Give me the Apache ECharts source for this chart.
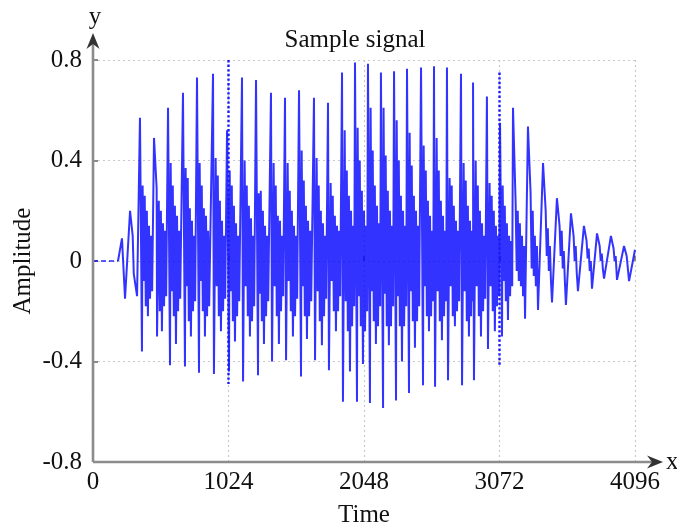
<!DOCTYPE html>
<html>
<head>
<meta charset="utf-8">
<script src="https://cdn.jsdelivr.net/npm/echarts@6/dist/echarts.min.js"></script>
<style>
  html, body { margin: 0; padding: 0; background: #fff; }
  #chart { width: 677px; height: 527px; }
</style>
</head>
<body>
<div id="chart"></div>
<script>
// Sample signal: glottal-like pulse train, amplitude vs. sample index (0..4096)

// Flat lead-in before the voiced part (samples, amplitude)
const leadT = [0, 189];
const leadY = [0, 0];

// Pulse instants (sample index) and their positive peaks
const pulseT  = [219, 280, 355, 461, 567, 680, 786, 907, 1013, 1126, 1232, 1345, 1451, 1557, 1670, 1776, 1882, 1980, 2078, 2176, 2275, 2373, 2479, 2577, 2675, 2781, 2872, 2977, 3076, 3174, 3287, 3401, 3506, 3612, 3710, 3809, 3914, 4013];
const pulseHi = [0.09, 0.20, 0.57, 0.49, 0.61, 0.67, 0.73, 0.745, 0.52, 0.73, 0.72, 0.67, 0.65, 0.68, 0.65, 0.63, 0.75, 0.79, 0.785, 0.75, 0.755, 0.765, 0.77, 0.775, 0.77, 0.745, 0.71, 0.655, 0.55, 0.61, 0.535, 0.39, 0.25, 0.19, 0.14, 0.11, 0.10, 0.06];

// Negative extreme in each period
const lowT    = [242, 333, 370, 484, 582, 695, 801, 914, 1028, 1134, 1247, 1353, 1459, 1572, 1678, 1783, 1889, 1995, 2093, 2192, 2290, 2388, 2494, 2585, 2683, 2789, 2879, 2985, 3091, 3265, 3363, 3469, 3574, 3665, 3771, 3862, 3960, 4051];
const pulseLo = [-0.15, -0.14, -0.36, -0.30, -0.415, -0.42, -0.445, -0.45, -0.44, -0.48, -0.455, -0.40, -0.395, -0.46, -0.395, -0.435, -0.56, -0.56, -0.565, -0.585, -0.555, -0.525, -0.495, -0.50, -0.475, -0.495, -0.475, -0.35, -0.30, -0.23, -0.195, -0.165, -0.175, -0.12, -0.11, -0.07, -0.075, -0.08];

// Ringing after each pulse: sample delays and the alternating levels reached
const ringDelay = [20, 28, 36, 44, 52, 60, 68, 76, 84, 92];
const ring = [
  [],
  [0.10, -0.05],
  [0.30, -0.08, 0.26, -0.18, 0.20, -0.22, 0.14, -0.15, 0.10, -0.12],
  [0.29, -0.10, 0.24, -0.20, 0.20, -0.28, 0.15, -0.18, 0.12, -0.14],
  [0.39, -0.12, 0.30, -0.22, 0.22, -0.33, 0.18, -0.20, 0.12, -0.15],
  [0.37, -0.10, 0.33, -0.24, 0.21, -0.30, 0.16, -0.20, 0.10, -0.16],
  [0.39, -0.08, 0.30, -0.20, 0.21, -0.30, 0.18, -0.22, 0.12, -0.18],
  [0.41, -0.10, 0.34, -0.22, 0.24, -0.28, 0.16, -0.20, 0.10, -0.15],
  [0.36, -0.12, 0.30, -0.24, 0.22, -0.32, 0.15, -0.22, 0.10, -0.16],
  [0.40, -0.10, 0.30, -0.22, 0.22, -0.30, 0.17, -0.24, 0.10, -0.18],
  [0.27, -0.13, 0.28, -0.24, 0.20, -0.33, 0.14, -0.22, 0.10, -0.16],
  [0.39, -0.10, 0.30, -0.22, 0.18, -0.33, 0.16, -0.20, 0.10, -0.14],
  [0.39, -0.08, 0.28, -0.20, 0.20, -0.30, 0.14, -0.22, 0.10, -0.15],
  [0.44, -0.10, 0.32, -0.22, 0.22, -0.31, 0.16, -0.22, 0.12, -0.16],
  [0.41, -0.12, 0.30, -0.24, 0.20, -0.335, 0.15, -0.22, 0.10, -0.15],
  [0.31, -0.08, 0.26, -0.20, 0.18, -0.28, 0.14, -0.20, 0.12, -0.14],
  [0.52, -0.16, 0.36, -0.28, 0.26, -0.44, 0.20, -0.26, 0.14, -0.18],
  [0.53, -0.14, 0.40, -0.26, 0.28, -0.41, 0.20, -0.28, 0.14, -0.20],
  [0.61, -0.12, 0.44, -0.24, 0.30, -0.33, 0.22, -0.26, 0.15, -0.18],
  [0.61, -0.13, 0.42, -0.26, 0.28, -0.335, 0.20, -0.26, 0.14, -0.18],
  [0.56, -0.14, 0.40, -0.26, 0.26, -0.40, 0.20, -0.26, 0.14, -0.18],
  [0.51, -0.12, 0.38, -0.24, 0.26, -0.345, 0.20, -0.24, 0.14, -0.18],
  [0.46, -0.10, 0.36, -0.22, 0.24, -0.28, 0.18, -0.22, 0.12, -0.16],
  [0.49, -0.12, 0.36, -0.24, 0.24, -0.315, 0.18, -0.22, 0.12, -0.16],
  [0.33, -0.10, 0.30, -0.22, 0.22, -0.26, 0.16, -0.20, 0.12, -0.16],
  [0.39, -0.12, 0.32, -0.24, 0.22, -0.30, 0.16, -0.22, 0.12, -0.16],
  [0.40, -0.10, 0.30, -0.22, 0.20, -0.30, 0.15, -0.20, 0.10, -0.15],
  [0.31, -0.10, 0.26, -0.20, 0.20, -0.28, 0.14, -0.18, 0.10, -0.14],
  [0.30, -0.08, 0.22, -0.16, 0.15, -0.235, 0.10, -0.14, 0.08, -0.10],
  [0.23, -0.04, 0.20, -0.08, 0.15, -0.10, 0.10, -0.14, 0.06],
  [0.27, -0.03, 0.20, -0.06, 0.10, -0.10, 0.06],
  [0.20, 0.02, 0.13, -0.04, 0.06, -0.08],
  [0.14, 0.02, 0.12, -0.03, 0.04, -0.08],
  [0.10, 0.00, 0.06, -0.05],
  [0.08, 0.01, 0.05, -0.04, 0.00],
  [0.06, 0.00, 0.03, -0.03],
  [0.05, 0.00, 0.02],
  [0.02]
];

// Last sample
const endT = 4096;
const endY = 0.045;

// Dotted frame boundaries drawn across the signal
const frameT  = [1024, 3072];
const frameHi = [0.80, 0.75];
const frameLo = [-0.49, -0.42];

// Axis ticks
const xTicks = [0, 1024, 2048, 3072, 4096];
const yTicks = [-0.8, -0.4, 0, 0.4, 0.8];

// Assemble the polyline vertices from the values above
const signal = [[leadT[leadT.length - 1], leadY[leadY.length - 1]]];
for (let i = 0; i < pulseT.length; i++) {
  const pts = [[pulseT[i], pulseHi[i]], [lowT[i], pulseLo[i]]];
  ring[i].forEach((v, k) => pts.push([pulseT[i] + ringDelay[k], v]));
  pts.sort((a, b) => a[0] - b[0]);
  signal.push(...pts);
}
signal.push([endT, endY]);

const lead = leadT.map((t, i) => [t, leadY[i]]);

const SERIF = '"Liberation Serif", "DejaVu Serif", serif';
const FS = 25;
const BLUE = '#0000ff';

const chart = echarts.init(document.getElementById('chart'), null, { renderer: 'canvas' });

const series = [
  {
    type: 'line', data: lead, symbol: 'none', silent: true,
    lineStyle: { color: BLUE, width: 1.7, type: [5, 3], opacity: 0.85 }
  },
  {
    type: 'line', data: signal, symbol: 'none', silent: true,
    lineStyle: { color: BLUE, width: 2.0, opacity: 0.8, join: 'miter', miterLimit: 4 }
  }
];
frameT.forEach((t, i) => {
  series.push({
    type: 'line', data: [[t, frameHi[i]], [t, frameLo[i]]], symbol: 'none', silent: true,
    lineStyle: { color: '#1a1aff', width: 2.4, type: [2.4, 2.2] }
  });
});

chart.setOption({
  animation: false,
  backgroundColor: '#ffffff',
  grid: { left: 93, right: 42, top: 60, bottom: 65, containLabel: false, outerBoundsMode: 'none' },
  xAxis: {
    type: 'value', min: xTicks[0], max: xTicks[xTicks.length - 1], interval: 1024,
    name: 'Time', nameLocation: 'middle', nameGap: 41,
    nameTextStyle: { fontFamily: SERIF, fontSize: FS, color: '#111' },
    axisLine: { show: false },
    axisTick: { show: true, inside: true, length: 5, lineStyle: { color: '#8a8a8a', width: 2 } },
    axisLabel: { fontFamily: SERIF, fontSize: FS, color: '#111', margin: 8, formatter: v => String(v) },
    splitLine: { show: true, lineStyle: { color: '#c9c9c9', type: [2, 3], width: 1.2 } }
  },
  yAxis: {
    type: 'value', min: yTicks[0], max: yTicks[yTicks.length - 1], interval: 0.4,
    name: 'Amplitude', nameLocation: 'middle', nameGap: 57, nameRotate: 90, nameMoveOverlap: false,
    nameTextStyle: { fontFamily: SERIF, fontSize: FS, color: '#111' },
    axisLine: { show: false },
    axisTick: { show: true, inside: true, length: 5, lineStyle: { color: '#8a8a8a', width: 2 } },
    axisLabel: { fontFamily: SERIF, fontSize: FS, color: '#111', margin: 11,
      formatter: v => (Math.abs(v) < 1e-9 ? '0' : (Math.round(v * 10) / 10).toFixed(1)) },
    splitLine: { show: true, lineStyle: { color: '#c9c9c9', type: [2, 3], width: 1.2 } }
  },
  series: series
});

// Axis lines with arrowheads, extended past the plot area, plus the title
const origin = chart.convertToPixel({ gridIndex: 0 }, [xTicks[0], yTicks[0]]);
const xEnd = chart.convertToPixel({ gridIndex: 0 }, [xTicks[xTicks.length - 1], yTicks[0]]);
const yEnd = chart.convertToPixel({ gridIndex: 0 }, [xTicks[0], yTicks[yTicks.length - 1]]);
const ox = origin[0], oy = origin[1];
const xTip = xEnd[0] + 28, yTip = yEnd[1] - 27;
const axisColor = '#8c8c8c', arrowColor = '#333';

chart.setOption({
  graphic: [
    { type: 'line', shape: { x1: ox, y1: oy, x2: xTip - 8, y2: oy }, style: { stroke: axisColor, lineWidth: 2.6 }, z: 10 },
    { type: 'line', shape: { x1: ox, y1: oy, x2: ox, y2: yTip + 8 }, style: { stroke: axisColor, lineWidth: 2.6 }, z: 10 },
    { type: 'polygon', shape: { points: [[xTip, oy], [xTip - 16, oy - 6.5], [xTip - 11, oy], [xTip - 16, oy + 6.5]] }, style: { fill: arrowColor }, z: 11 },
    { type: 'polygon', shape: { points: [[ox, yTip], [ox - 6.5, yTip + 16], [ox, yTip + 11], [ox + 6.5, yTip + 16]] }, style: { fill: arrowColor }, z: 11 },
    { type: 'text', x: xTip + 3, y: oy, style: { text: 'x', font: FS + 'px ' + SERIF, fill: '#111', verticalAlign: 'middle' }, z: 11 },
    { type: 'text', x: ox + 2, y: yTip - 3, style: { text: 'y', font: FS + 'px ' + SERIF, fill: '#111', align: 'center', verticalAlign: 'bottom' }, z: 11 },
    { type: 'text', x: 355, y: 28, style: { text: 'Sample signal', font: FS + 'px ' + SERIF, fill: '#111', align: 'center', verticalAlign: 'top' }, z: 11 }
  ]
});
</script>
</body>
</html>
